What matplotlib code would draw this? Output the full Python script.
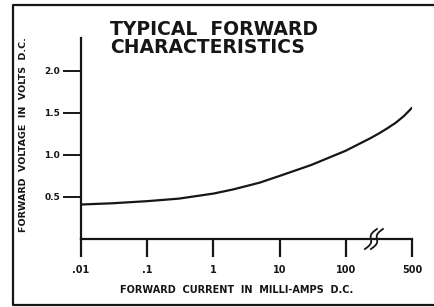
import numpy as np
import matplotlib
matplotlib.use("Agg")
import matplotlib.pyplot as plt
import matplotlib.transforms as mtransforms
from matplotlib.lines import Line2D
from matplotlib.ticker import FixedLocator, FixedFormatter, NullLocator

# forward current (mA) vs forward voltage (V)
current_ma = [0.01, 0.03, 0.1, 0.3, 1, 2, 5, 10, 30, 100, 150, 200, 250, 300, 350, 400, 450, 500]
voltage_v = [0.41, 0.425, 0.45, 0.48, 0.54, 0.59, 0.67, 0.75, 0.88, 1.05, 1.10, 1.15, 1.20, 1.255,
             1.315, 1.38, 1.46, 1.56]

x_ticks = [0.01, 0.1, 1, 10, 100, 500]
x_ticklabels = [".01", ".1", "1", "10", "100", "500"]
y_ticks = [0.5, 1.0, 1.5, 2.0]
y_ticklabels = ["0.5", "1.0", "1.5", "2.0"]
break_at = 270  # mA, where the axis break sits

ink = "#161616"
plt.rcParams['font.family'] = ['DejaVu Sans']
plt.rcParams['font.weight'] = 'bold'


# log decades up to 100 mA, then one linear "decade" from 100 to 500 (broken axis)
def fwd(i):
    i = np.asarray(i, dtype=float)
    lo = np.log10(np.clip(i, 1e-9, None))
    return np.where(i <= 100, lo, 2 + (i - 100) / 400.0)


def inv(p):
    p = np.asarray(p, dtype=float)
    return np.where(p <= 2, 10 ** np.clip(p, -20, 2), 100 + (p - 2) * 400.0)


fig = plt.figure(figsize=(4.34, 3.07), dpi=100)
ax = fig.add_axes([81 / 434, 1 - 239 / 307, (412 - 81) / 434, (239 - 38) / 307])

ax.set_xscale('function', functions=(fwd, inv))
ax.plot(current_ma, voltage_v, color=ink, lw=1.6, solid_capstyle='round')

ax.set_xlim(0.01, 500)
ax.set_ylim(0, 2.39)

for s in ['top', 'right']:
    ax.spines[s].set_visible(False)
for s in ['left', 'bottom']:
    ax.spines[s].set_linewidth(1.6)
    ax.spines[s].set_color(ink)

ax.xaxis.set_major_locator(FixedLocator(x_ticks))
ax.xaxis.set_major_formatter(FixedFormatter(x_ticklabels))
ax.xaxis.set_minor_locator(NullLocator())
ax.set_yticks(y_ticks)
ax.set_yticklabels(y_ticklabels)

ax.tick_params(axis='x', direction='out', length=13, width=1.6, color=ink,
               labelsize=7, labelcolor=ink, pad=6)
ax.tick_params(axis='y', direction='out', length=13, width=1.4, color=ink,
               labelsize=6.5, labelcolor=ink, pad=2)

ax.set_xlabel("FORWARD  CURRENT  IN  MILLI-AMPS  D.C.", fontsize=7, color=ink,
              fontweight='bold')
ax.xaxis.set_label_coords(0.47, -0.23)
ax.set_ylabel("FORWARD  VOLTAGE  IN  VOLTS  D.C.", fontsize=6.8, color=ink,
              fontweight='bold')
ax.yaxis.set_label_coords(-0.16, 0.52)

# axis break: white gap on the axis plus two slanted S strokes (pixel offsets)
fig.canvas.draw()
anchor = ax.transData.transform((break_at, 0))
px_to_fig = mtransforms.Affine2D().translate(*anchor)
t = np.linspace(-1, 1, 30)
sx = 6 * t - 2.5 * np.sin(np.pi * t)
sy = 10 * t
gap = Line2D([-3, 3], [0, 0], color="white", lw=3, clip_on=False, transform=px_to_fig)
ax.add_line(gap)
for dx in [-3, 3]:
    ax.add_line(Line2D(sx + dx, sy, color=ink, lw=1.3, clip_on=False, transform=px_to_fig))

fig.text(110 / 434, 1 - 20 / 307, "TYPICAL  FORWARD\nCHARACTERISTICS", fontsize=13.5,
         fontweight='bold', color=ink, va='top', ha='left', linespacing=0.95)

# outer frame (the scan shows no right edge)
frame = Line2D([433 / 434, 13 / 434, 13 / 434, 433 / 434],
               [1 - 5 / 307, 1 - 5 / 307, 1 - 305 / 307, 1 - 305 / 307],
               color=ink, lw=1.6, transform=fig.transFigure)
fig.add_artist(frame)

fig.savefig("out.png", dpi=100)
